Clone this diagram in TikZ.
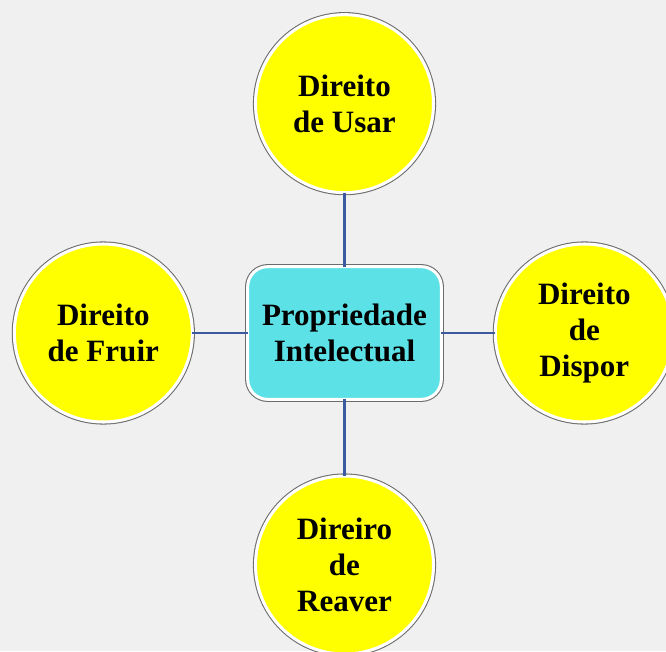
\documentclass[tikz,border=0pt]{standalone}
\usepackage{fontspec}
\setmainfont{Liberation Serif}
\usepackage{xcolor}
\usetikzlibrary{positioning,shadows}

\definecolor{bgGray}{RGB}{240,240,240}
\definecolor{rightYellow}{RGB}{255,255,0}
\definecolor{centerCyan}{RGB}{92,225,230}
\definecolor{linkBlue}{RGB}{60,90,160}

\begin{document}
\begin{tikzpicture}[
    font=\fontsize{26.5}{31}\selectfont\bfseries,
    framed/.style={preaction={draw=gray!85!black, line width=4.4pt}, draw=white, line width=2.6pt, outer sep=0pt, align=center, text=black,
                   drop shadow={opacity=0.25, shadow xshift=0.6pt, shadow yshift=-1.2pt}},
    bubble/.style={framed, circle, fill=rightYellow, minimum size=5.34cm, inner sep=0pt},
    core/.style={framed, rounded corners=0.6cm, fill=centerCyan, minimum width=5.81cm, minimum height=3.98cm},
    link/.style={draw=linkBlue, line width=1.8pt}
]
% background and page size
\fill[bgGray] (-10.335,9.99) rectangle (9.645,-9.54);
\useasboundingbox (-10.335,9.99) rectangle (9.645,-9.54);

\node[core] (pi) at (0,0) {Propriedade\\Intelectual};
\node[bubble, above=2.22cm of pi] (usar) {Direito\\de Usar};
\node[bubble, left=1.66cm of pi] (fruir) {Direito\\de Fruir};
\node[bubble, right=1.62cm of pi] (dispor) {Direito\\de\\Dispor};
\node[bubble, below=2.3cm of pi] (reaver) {Direiro\\de\\Reaver};

\draw[link] (usar) -- (pi);
\draw[link] (fruir) -- (pi);
\draw[link] (dispor) -- (pi);
\draw[link] (reaver) -- (pi);
\end{tikzpicture}
\end{document}
